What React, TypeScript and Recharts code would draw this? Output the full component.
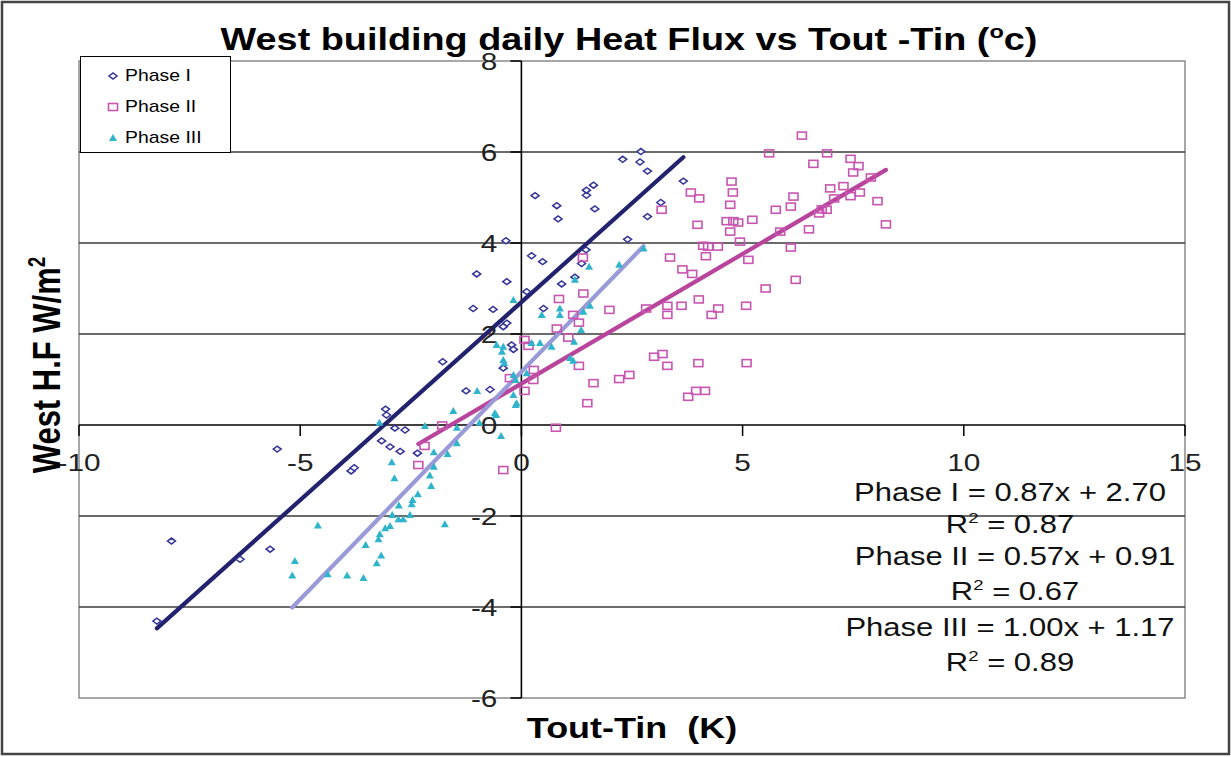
import React from 'react';
import {
  ScatterChart,
  Scatter,
  XAxis,
  YAxis,
  ReferenceLine,
  ReferenceDot,
  ReferenceArea,
  Legend,
} from 'recharts';

// ---------- data ----------
const phase1Points: [number, number][] = [
  [-8.24, -4.31], [-7.91, -2.55], [-6.36, -2.95], [-5.68, -2.73], [-5.52, -0.53], [-3.85, -1.01], [-3.78, -0.94],
  [-3.16, -0.35], [-2.97, -0.48], [-2.74, -0.58], [-2.35, -0.62], [-2.86, -0.07], [-2.63, -0.11], [-3.07, 0.35],
  [-3.05, 0.22], [-1.78, 1.39], [-1.25, 0.75], [-0.71, 0.78], [-1.09, 2.56], [-0.64, 2.54], [-1.01, 3.32],
  [-0.41, 2.16], [-0.33, 2.24], [-0.22, 1.76], [-0.18, 1.66], [-0.41, 1.25], [-0.35, 4.05], [-0.33, 3.15],
  [0.12, 2.93], [0.23, 3.72], [0.48, 3.59], [0.5, 2.56], [0.91, 3.1], [1.21, 3.25], [1.36, 3.55], [1.46, 3.85],
  [0.31, 5.04], [0.8, 4.82], [0.83, 4.53], [1.47, 5.05], [1.63, 5.27], [1.47, 5.16], [1.66, 4.75], [2.29, 5.84],
  [2.7, 6.01], [2.68, 5.78], [2.85, 5.58], [2.85, 4.58], [3.15, 4.89], [3.66, 5.36], [2.4, 4.08],
];

const phase2Points: [number, number][] = [
  [-2.19, -0.46], [-2.33, -0.88], [-1.79, -0.01], [-0.41, -0.99], [0.78, -0.06], [0.07, 0.75], [-0.26, 1.03],
  [0.28, 1.21], [0.27, 0.99], [0.07, 1.87], [0.16, 1.74], [1.06, 1.92], [1.3, 1.3], [0.85, 2.77], [0.8, 2.12],
  [1.17, 2.42], [1.4, 2.89], [1.3, 2.25], [1.39, 3.68], [1.49, 0.48], [1.63, 0.92], [2.21, 1.01], [2.44, 1.1],
  [1.99, 2.53], [2.82, 2.56], [3.0, 1.5], [3.19, 1.56], [3.3, 1.3], [3.3, 2.62], [3.3, 2.42], [3.62, 2.62],
  [3.64, 3.42], [3.86, 3.32], [4.01, 2.76], [3.36, 3.68], [4.0, 1.36], [3.77, 0.62], [3.95, 0.75], [4.15, 0.75],
  [4.3, 2.42], [4.45, 2.56], [4.11, 3.94], [4.22, 3.92], [4.44, 3.92], [4.17, 3.71], [4.94, 4.03], [5.13, 3.63],
  [5.08, 2.62], [5.09, 1.36], [5.52, 3.0], [4.72, 4.25], [3.98, 4.4], [3.17, 4.73], [4.72, 4.84], [4.64, 4.48],
  [4.79, 4.48], [4.9, 4.45], [5.22, 4.51], [5.75, 4.73], [6.09, 4.8], [6.09, 3.9], [6.2, 3.19], [5.85, 4.25],
  [4.75, 5.35], [4.78, 5.11], [3.83, 5.11], [4.02, 4.98], [6.34, 6.36], [5.6, 5.97], [6.91, 5.97], [6.6, 5.74],
  [7.44, 5.85], [7.62, 5.69], [7.5, 5.55], [7.9, 5.44], [6.98, 5.2], [7.28, 5.25], [7.07, 4.98], [7.44, 5.03],
  [7.65, 5.11], [6.15, 5.02], [6.79, 4.74], [6.9, 4.73], [6.73, 4.65], [8.05, 4.92], [8.24, 4.41], [6.5, 4.3],
];

const phase3Points: [number, number][] = [
  [-5.18, -3.31], [-5.12, -2.99], [-4.6, -2.21], [-4.38, -3.28], [-3.94, -3.31], [-3.57, -3.36], [-3.27, -3.04],
  [-3.17, -2.87], [-3.52, -2.64], [-3.23, -2.51], [-3.2, -2.4], [-3.08, -2.27], [-2.97, -2.22], [-2.92, -1.98],
  [-2.78, -2.07], [-2.67, -2.07], [-2.52, -1.98], [-2.77, -1.77], [-2.48, -1.74], [-2.46, -1.65], [-2.34, -1.52],
  [-2.04, -1.34], [-2.07, -1.11], [-1.98, -0.92], [-1.73, -2.18], [-2.87, -1.17], [-2.93, -0.82], [-1.98, -0.6],
  [-1.67, -0.64], [-1.46, -0.4], [-3.21, 0.05], [-2.18, -0.02], [-1.54, 0.31], [-1.0, 0.75], [-1.46, -0.06],
  [-0.95, 0.05], [-0.57, 0.22], [-0.46, -0.24], [-0.18, 0.66], [-0.13, 0.44], [-0.18, 1.1], [-0.13, 0.99],
  [-0.41, 1.43], [-0.39, 1.36], [-0.56, 1.76], [-0.41, 1.72], [-0.44, 1.61], [0.12, 1.14], [0.23, 1.8], [0.42, 1.8],
  [0.68, 1.72], [1.1, 1.47], [1.17, 1.41], [1.19, 1.83], [1.35, 2.09], [0.46, 2.42], [0.87, 2.56], [0.87, 2.42],
  [1.4, 2.49], [1.55, 2.62], [1.21, 3.19], [1.53, 3.48], [2.21, 3.52], [2.76, 3.88], [-0.18, 2.75], [-0.6, 0.26],
  [-0.11, 0.48],
];

const seriesNames = ['Phase I', 'Phase II', 'Phase III'];
const slopes = [0.87, 0.57, 1.0];
const intercepts = [2.7, 0.91, 1.17];
const rSquared = [0.87, 0.67, 0.89];

const X_TICKS = [-10, -5, 0, 5, 10, 15];
const Y_TICKS = [-6, -4, -2, 0, 2, 4, 6, 8];
const GRID_Y = [-4, -2, 2, 4, 6];

const TITLE = 'West building daily Heat Flux vs Tout -Tin (';
const X_LABEL = 'Tout-Tin  (K)';
const Y_LABEL = 'West H.F W/m';

// ---------- styling ----------
const FONT = '"Liberation Sans", Arial, Helvetica, sans-serif';
const SX = 1.24; // horizontal stretch of the reference's text
const COLORS = {
  p1: '#333399',
  p1Line: '#22226f',
  p2: '#c855b0',
  p2Line: '#b8449c',
  p3: '#2fb4cc',
  p3Line: '#9a9ad8',
};

type Kind = 'diamond' | 'square' | 'triangle';

const Marker = ({ cx, cy, kind }: { cx: number; cy: number; kind: Kind }) => {
  if (cx == null || cy == null) return null;
  if (kind === 'diamond') {
    return (
      <polygon
        points={`${cx - 4},${cy} ${cx},${cy - 3} ${cx + 4},${cy} ${cx},${cy + 3}`}
        fill="#fff"
        stroke={COLORS.p1}
        strokeWidth={1.5}
      />
    );
  }
  if (kind === 'square') {
    return (
      <rect x={cx - 4.5} y={cy - 3.5} width={9} height={7} fill="none" stroke={COLORS.p2} strokeWidth={1.6} />
    );
  }
  return (
    <polygon
      points={`${cx},${cy - 4} ${cx + 4},${cy + 3} ${cx - 4},${cy + 3}`}
      fill={COLORS.p3}
    />
  );
};

const toObjs = (pts: [number, number][]) => pts.map(([x, y]) => ({ x, y }));

const SERIES = [
  { name: seriesNames[0], data: toObjs(phase1Points), kind: 'diamond' as Kind, line: COLORS.p1Line },
  { name: seriesNames[1], data: toObjs(phase2Points), kind: 'square' as Kind, line: COLORS.p2Line },
  { name: seriesNames[2], data: toObjs(phase3Points), kind: 'triangle' as Kind, line: COLORS.p3Line },
];

const trendSegment = (pts: [number, number][], i: number) => {
  const xs = pts.map((p) => p[0]);
  const x0 = Math.min(...xs);
  const x1 = Math.max(...xs);
  return [
    { x: x0, y: slopes[i] * x0 + intercepts[i] },
    { x: x1, y: slopes[i] * x1 + intercepts[i] },
  ];
};
const allPoints = [phase1Points, phase2Points, phase3Points];

const XTickShape = (props: any) => {
  const { cx, cy, label } = props;
  if (cx == null || cy == null) return null;
  return (
    <g>
      <line x1={cx} y1={cy} x2={cx} y2={cy + 11} stroke="#000" strokeWidth={1.5} />
      <text
        transform={`translate(${cx},${cy + 46}) scale(${SX},1)`}
        textAnchor="middle"
        fontFamily={FONT}
        fontSize={24}
        fill="#222"
      >
        {label}
      </text>
    </g>
  );
};

const YTickShape = (props: any) => {
  const { cx, cy, label } = props;
  if (cx == null || cy == null) return null;
  return (
    <g>
      <line x1={cx - 11} y1={cy} x2={cx} y2={cy} stroke="#000" strokeWidth={1.5} />
      <text
        transform={`translate(${cx - 24},${cy + 8.5}) scale(${SX},1)`}
        textAnchor="end"
        fontFamily={FONT}
        fontSize={24}
        fill="#222"
      >
        {label}
      </text>
    </g>
  );
};

const renderLegend = () => (
  <div
    style={{
      width: 151,
      height: 97,
      boxSizing: 'border-box',
      border: '1.5px solid #000',
      background: '#fff',
      fontFamily: FONT,
      paddingTop: 3,
    }}
  >
    {SERIES.map((s) => (
      <div key={s.name} style={{ height: 31, display: 'flex', alignItems: 'center', paddingLeft: 26 }}>
        <svg width={12} height={10} style={{ display: 'block' }}>
          <Marker cx={6} cy={5} kind={s.kind} />
        </svg>
        <span
          style={{
            marginLeft: 6,
            fontSize: 17,
            color: '#000',
            display: 'inline-block',
            transform: `scaleX(${SX * 0.92})`,
            transformOrigin: 'left center',
            whiteSpace: 'nowrap',
          }}
        >
          {s.name}
        </span>
      </div>
    ))}
  </div>
);

const eqLines = (i: number) => [
  `${seriesNames[i]} = ${slopes[i].toFixed(2)}x + ${intercepts[i].toFixed(2)}`,
  ` = ${rSquared[i].toFixed(2)}`,
];

const EQ_LAYOUT = [
  { cx: 1010, y1: 501, y2: 533 },
  { cx: 1015, y1: 565, y2: 600 },
  { cx: 1010, y1: 636, y2: 671 },
];

export default function App() {
  return (
    <div style={{ position: 'absolute', left: 0, top: 0, width: 1231, height: 757, background: '#fff' }}>
      <ScatterChart
        width={1231}
        height={757}
        margin={{ top: 61, right: 46, bottom: 59, left: 79 }}
        style={{ fontFamily: FONT }}
      >
        <XAxis type="number" dataKey="x" domain={[-10, 15]} ticks={X_TICKS} hide />
        <YAxis type="number" dataKey="y" domain={[-6, 8]} ticks={Y_TICKS} hide />
        <ReferenceArea
          x1={-10}
          x2={15}
          y1={-6}
          y2={8}
          fill="none"
          fillOpacity={0}
          stroke="#8a8a8a"
          strokeWidth={1.5}
          ifOverflow="visible"
        />
        {GRID_Y.map((v) => (
          <ReferenceLine key={`g${v}`} y={v} stroke="#3a3a3a" strokeWidth={1.5} />
        ))}
        <ReferenceLine y={0} stroke="#000" strokeWidth={1.6} />
        <ReferenceLine x={0} stroke="#000" strokeWidth={1.6} />
        {X_TICKS.map((t) => (
          <ReferenceDot
            key={`xt${t}`}
            x={t}
            y={0}
            r={0}
            ifOverflow="visible"
            shape={(p: any) => <XTickShape {...p} label={t} />}
          />
        ))}
        {Y_TICKS.map((t) => (
          <ReferenceDot
            key={`yt${t}`}
            x={0}
            y={t}
            r={0}
            ifOverflow="visible"
            shape={(p: any) => <YTickShape {...p} label={t} />}
          />
        ))}
        {SERIES.map((s) => (
          <Scatter
            key={s.name}
            name={s.name}
            data={s.data}
            isAnimationActive={false}
            shape={(p: any) => <Marker cx={p.cx} cy={p.cy} kind={s.kind} />}
          />
        ))}
        {SERIES.map((s, i) => (
          <ReferenceLine
            key={`trend${i}`}
            segment={trendSegment(allPoints[i], i)}
            stroke={s.line}
            strokeWidth={4.2}
            strokeLinecap="round"
            ifOverflow="visible"
          />
        ))}
        <Legend
          layout="vertical"
          align="center"
          verticalAlign="middle"
          content={renderLegend}
          wrapperStyle={{ position: 'absolute', left: 80, top: 56, width: 151, height: 97, margin: 0 }}
        />
      </ScatterChart>

      <svg
        width={1231}
        height={757}
        style={{ position: 'absolute', left: 0, top: 0, pointerEvents: 'none' }}
      >
        <rect x={2} y={2} width={1227} height={752} fill="none" stroke="#444" strokeWidth={2.5} />
        <text
          transform={`translate(629,50) scale(${SX},1)`}
          textAnchor="middle"
          fontFamily={FONT}
          fontWeight="bold"
          fontSize={30.5}
          fill="#000"
        >
          {TITLE}
          <tspan fontSize={19} dy={-12}>o</tspan>
          <tspan dy={12}>c)</tspan>
        </text>
        <text
          transform={`translate(632,738) scale(${SX},1)`}
          textAnchor="middle"
          fontFamily={FONT}
          fontWeight="bold"
          fontSize={29}
          fill="#000"
          style={{ whiteSpace: 'pre' }}
        >
          {X_LABEL}
        </text>
        <text
          transform={`translate(60,365) scale(${SX},1) rotate(-90)`}
          textAnchor="middle"
          fontFamily={FONT}
          fontWeight="bold"
          fontSize={31}
          fill="#000"
        >
          {Y_LABEL}
          <tspan fontSize={19} dy={-12}>2</tspan>
        </text>
        {EQ_LAYOUT.map((L, i) => {
          const [l1, l2] = eqLines(i);
          return (
            <g key={`eq${i}`} fontFamily={FONT} fontSize={25} fill="#111">
              <text transform={`translate(${L.cx},${L.y1}) scale(${SX},1)`} textAnchor="middle" style={{ whiteSpace: 'pre' }}>
                {l1}
              </text>
              <text transform={`translate(${L.cx},${L.y2}) scale(${SX},1)`} textAnchor="middle" style={{ whiteSpace: 'pre' }}>
                R<tspan fontSize={15} dy={-10}>2</tspan>
                <tspan dy={10}>{l2}</tspan>
              </text>
            </g>
          );
        })}
      </svg>
    </div>
  );
}
